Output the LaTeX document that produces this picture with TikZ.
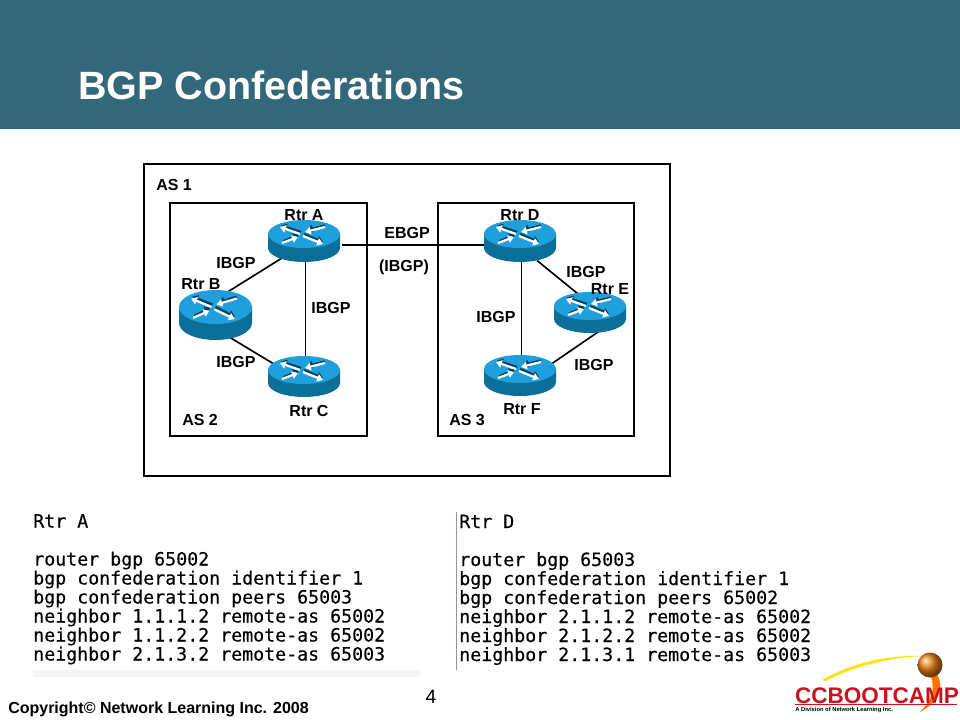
\documentclass[tikz,border=0pt]{standalone}
\usepackage{fontspec}
\setmainfont{Liberation Sans}
\newfontfamily\codefont[FakeBold=0.25]{DejaVu Sans Mono}
\usetikzlibrary{shapes.geometric,arrows.meta}
\definecolor{headerteal}{HTML}{33687A}
\definecolor{rtrtop}{HTML}{1FA0DC}
\definecolor{rtrside}{HTML}{0B6F9A}
\definecolor{rtrdark}{HTML}{06405E}
\definecolor{logored}{HTML}{C8141E}
\definecolor{panelline}{HTML}{8C98A8}
\tikzset{
  asbox/.style={draw=black,line width=1.6pt,fill=white},
  lbl/.style={font=\fontsize{12pt}{14pt}\selectfont\bfseries,text=black,inner sep=0pt},
  link/.style={draw=black,line width=1.25pt},
  rtrnode/.style={ellipse,inner sep=0pt},
  code/.style={font=\codefont\fontsize{13.7pt}{15pt}\selectfont,text=black,anchor=base west,inner sep=0pt},
  rarrow/.style={white,line width=1.7pt,-{Triangle[width=5.6pt,length=4.4pt]}},
  rshadow/.style={rtrdark,line width=1.7pt,-{Triangle[width=5.6pt,length=4.4pt]}}
}
% cx, top-ellipse cy, rx, ry, depth
\newcommand{\rtrdraw}[5]{%
  \begin{scope}[shift={(#1,#2)}]
    \fill[rtrside] (-#3,0) -- (-#3,#5) arc[start angle=180,end angle=0,x radius=#3,y radius=#4] -- (#3,0) -- cycle;
    \fill[rtrtop] (0,0) ellipse[x radius=#3,y radius=#4];
    \begin{scope}[x=#3*0.75pt/36,y=#4*0.75pt/14]
      \draw[rshadow] (-21,-7.5) -- (-5,-0.5);
      \draw[rshadow] (21,8.5) -- (3,4);
      \draw[rshadow] (-3,2) -- (-23,8.5);
      \draw[rshadow] (0,0) -- (19,-8);
      \draw[rarrow] (-22,-9) -- (-6,-3);
      \draw[rarrow] (-1,-2) -- (19,-10);
      \draw[rarrow] (-4,0) -- (-24,7);
      \draw[rarrow] (21,7) -- (1,2);
    \end{scope}
  \end{scope}}
\begin{document}
\begin{tikzpicture}[x=0.75pt,y=-0.75pt]
\useasboundingbox (0,0) rectangle (960,720);
\fill[white] (0,0) rectangle (960,720);
\fill[headerteal] (0,0) rectangle (960,129);
\node[anchor=base west,inner sep=0pt,text=white,font=\fontsize{29.6pt}{32pt}\selectfont\bfseries] (title) at (78,100) {BGP Confederations};

% boxes
\node[asbox,minimum width=526*0.75pt,minimum height=312*0.75pt,inner sep=0pt] (as1) at (407,320) {};
\node[asbox,minimum width=197*0.75pt,minimum height=233*0.75pt,inner sep=0pt] (as2) at (268.5,319.5) {};
\node[asbox,minimum width=196*0.75pt,minimum height=233*0.75pt,inner sep=0pt] (as3) at (536,319.5) {};

% router anchors
\node[rtrnode,minimum width=72*0.75pt,minimum height=34*0.75pt] (ra) at (305.5,245) {};
\node[rtrnode,minimum width=73*0.75pt,minimum height=48*0.75pt] (rb) at (215.5,314) {};
\node[rtrnode,minimum width=72*0.75pt,minimum height=36*0.75pt] (rc) at (305.5,376) {};
\node[rtrnode,minimum width=72*0.75pt,minimum height=34*0.75pt] (rd) at (521.5,245) {};
\node[rtrnode,minimum width=72*0.75pt,minimum height=36*0.75pt] (re) at (590,313) {};
\node[rtrnode,minimum width=72*0.75pt,minimum height=36*0.75pt] (rf) at (521.5,375) {};

% connectors
\draw[link] (ra.209) -- (rb.60);
\draw[link] (ra) -- (rc);
\draw[link] (rb.-60) -- (rc.160);
\draw[link] (ra) -- (rd);
\draw[link] (rd) -- (rf);
\draw[link] (rd.-45) -- (re.120);
\draw[link] (re.-60) -- (rf.20);

% routers
\rtrdraw{304}{234}{36}{14}{14}
\rtrdraw{215.5}{307}{36.5}{17}{16}
\rtrdraw{304}{370}{36}{14}{13}
\rtrdraw{520}{234}{36}{14}{14}
\rtrdraw{590}{306}{36}{14}{13}
\rtrdraw{520}{369}{36}{14}{13}

% labels
\node[lbl,anchor=west] (l1) at (156,185) {AS 1};
\node[lbl] (l2) at (304,215) {Rtr A};
\node[lbl] (l3) at (520,215) {Rtr D};
\node[lbl] (l4) at (407,233) {EBGP};
\node[lbl] (l5) at (404,267) {(IBGP)};
\node[lbl] (l6) at (236,263) {IBGP};
\node[lbl] (l7) at (201,284) {Rtr B};
\node[lbl] (l8) at (331,308) {IBGP};
\node[lbl] (l9) at (236,362) {IBGP};
\node[lbl] (l10) at (309,411) {Rtr C};
\node[lbl,anchor=west] (l11) at (182,420) {AS 2};
\node[lbl] (l12) at (586,272) {IBGP};
\node[lbl] (l13) at (610,289) {Rtr E};
\node[lbl] (l14) at (496,317) {IBGP};
\node[lbl] (l15) at (594,365) {IBGP};
\node[lbl] (l16) at (522,409) {Rtr F};
\node[lbl,anchor=west] (l17) at (449,420) {AS 3};

% config panels
\draw[panelline,line width=0.7pt] (456.5,512) -- (456.5,670);
\fill[black!4] (33,670) rectangle (421,677);
\node[code] (a0) at (33,527.5) {Rtr A};
\node[code] (a1) at (33,565.5) {router bgp 65002};
\node[code] (a2) at (33,584.5) {bgp confederation identifier 1};
\node[code] (a3) at (33,603.5) {bgp confederation peers 65003};
\node[code] (a4) at (33,622.5) {neighbor 1.1.1.2 remote-as 65002};
\node[code] (a5) at (33,641.5) {neighbor 1.1.2.2 remote-as 65002};
\node[code] (a6) at (33,660.5) {neighbor 2.1.3.2 remote-as 65003};
\node[code] (d0) at (459,528) {Rtr D};
\node[code] (d1) at (459,566) {router bgp 65003};
\node[code] (d2) at (459,585) {bgp confederation identifier 1};
\node[code] (d3) at (459,604) {bgp confederation peers 65002};
\node[code] (d4) at (459,623) {neighbor 2.1.1.2 remote-as 65002};
\node[code] (d5) at (459,642) {neighbor 2.1.2.2 remote-as 65002};
\node[code] (d6) at (459,661) {neighbor 2.1.3.1 remote-as 65003};

% footer
\node[anchor=base west,inner sep=0pt,font=\fontsize{12pt}{14pt}\selectfont\bfseries] (copy) at (8,713) {Copyright© Network Learning Inc. 2008};
\node[anchor=base,inner sep=0pt,font=\fontsize{14.5pt}{16pt}\selectfont] (page) at (431,703) {4};

% logo
\fill[yellow!85!orange] (822,680) .. controls (850,664) and (885,655) .. (922,656) .. controls (885,658) and (850,668) .. (826,681) -- cycle;
\fill[orange!90!red] (936,672) .. controls (946,690) and (938,702) .. (920,712) .. controls (932,700) and (936,688) .. (930,674) -- cycle;
\shade[ball color=orange!65!brown] (930,665) circle[radius=12.5];
\node[anchor=base,inner sep=0pt,text=logored,font=\fontsize{16.9pt}{19pt}\selectfont\bfseries] (brand) at (877,703) {CCBOOTCAMP};
\draw[logored,line width=0.8pt] (795,704.5) -- (957,704.5);
\node[anchor=base west,inner sep=0pt,font=\fontsize{4.35pt}{5pt}\selectfont\bfseries] (brand2) at (795,711) {A Division of Network Learning Inc.};
\end{tikzpicture}
\end{document}
